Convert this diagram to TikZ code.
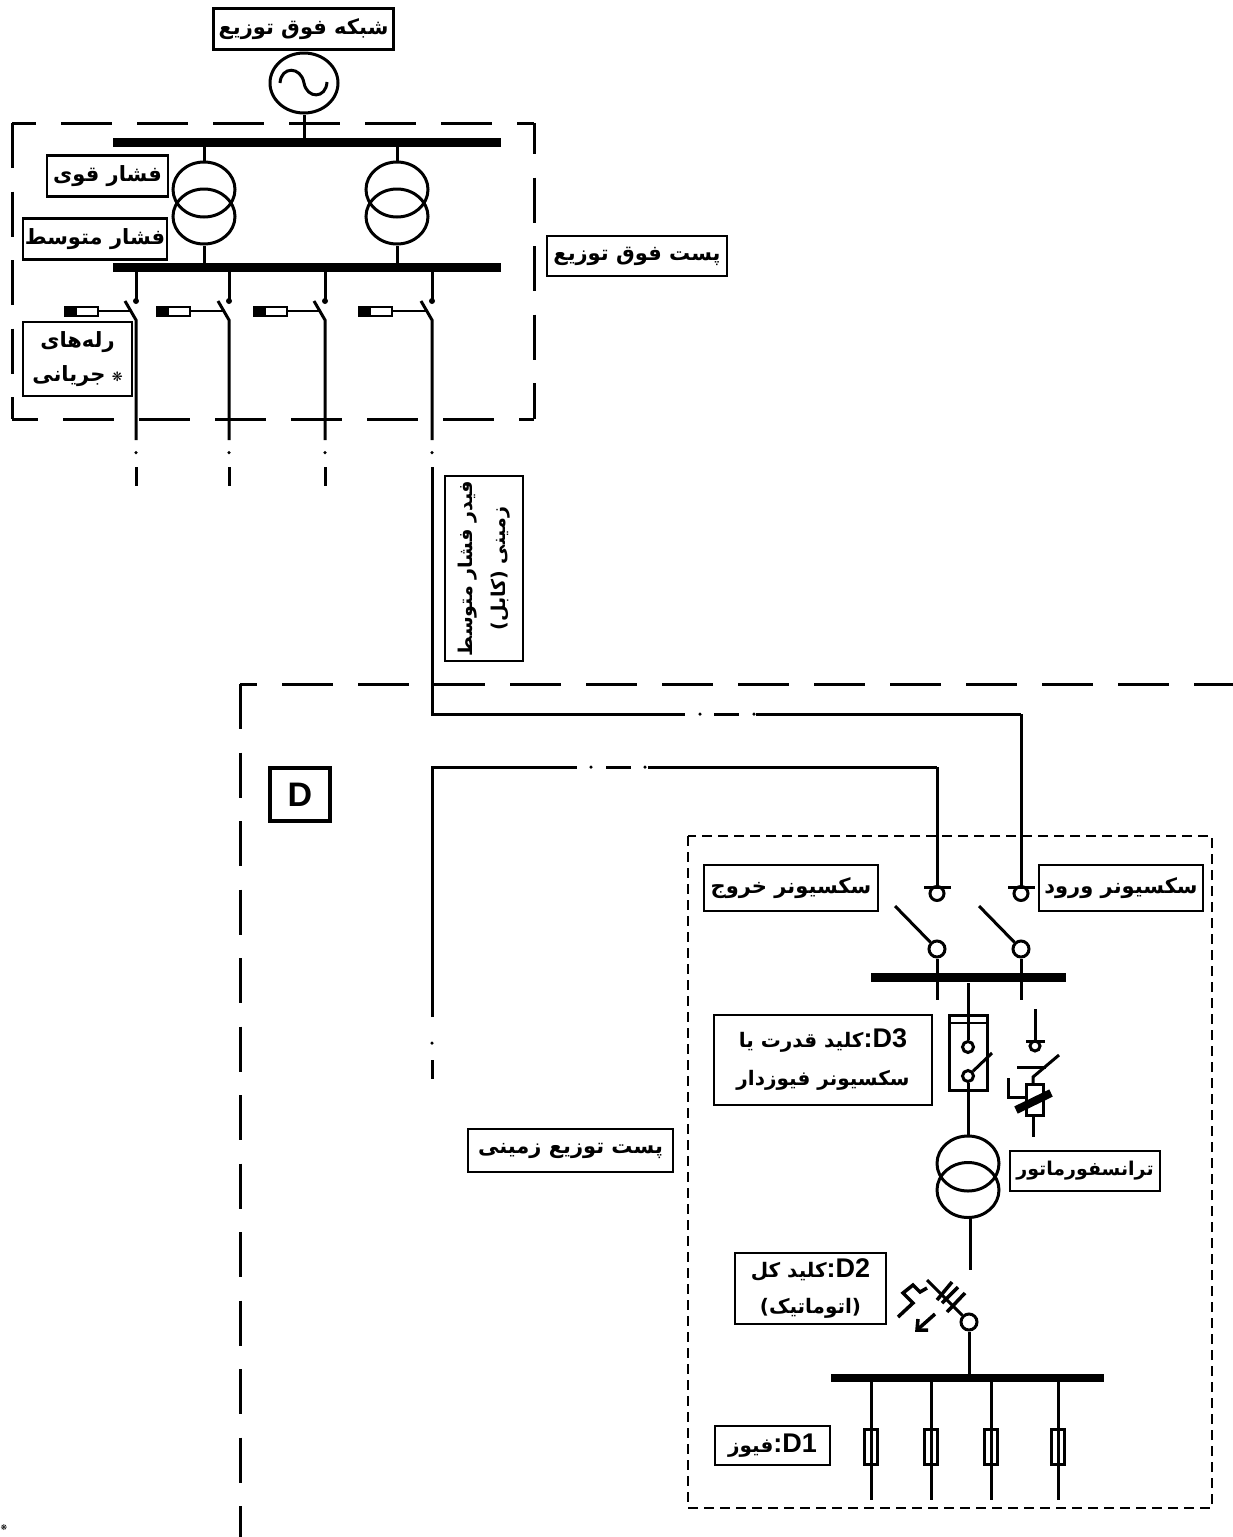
\documentclass[tikz,border=0pt]{standalone}
\usepackage{fontspec}
\usepackage{tikz}
\usetikzlibrary{shapes.geometric}
\TeXXeTstate=1
\newfontfamily\farsifont[Script=Arabic]{DejaVu Sans Bold}
\newfontfamily\latinfont{Liberation Sans Bold}
\newfontfamily\symbfont{DejaVu Sans}
\newcommand{\fa}[1]{{\farsifont\beginR #1\endR}}
\newcommand{\tagD}[1]{\beginL{\latinfont\fontsize{27}{32}\selectfont #1}\endL{\latinfont\fontsize{27}{32}\selectfont :}}
\begin{document}
\begin{tikzpicture}[x=1pt, y=-1pt, line width=3pt,
    lbl/.style={rectangle,draw,fill=white,line width=2.5pt,inner sep=0pt,align=center,font=\fontsize{21}{36}\selectfont},
    bus/.style={rectangle,fill=black,inner sep=0pt,minimum height=9pt},
    winding/.style={ellipse,draw,inner sep=0pt,minimum width=62pt,minimum height=55pt},
    contact/.style={circle,draw,inner sep=0pt,minimum size=13pt},
    relay/.style={rectangle,draw,inner sep=0pt,minimum width=33pt,minimum height=9pt,line width=2pt},
    relaycore/.style={rectangle,fill=black,inner sep=0pt,minimum width=12pt,minimum height=9pt},
    pip/.style={circle,fill=black,inner sep=0pt,minimum size=3.5pt},
    fuse/.style={rectangle,draw,inner sep=0pt,minimum width=13pt,minimum height=35pt},
    longdash/.style={dash pattern=on 51pt off 25pt},
    sidedash/.style={dash pattern=on 45pt off 23.5pt},
    shortdash/.style={line width=2.5pt,dash pattern=on 10pt off 6pt}]
    \useasboundingbox (0,0) rectangle (1233,1537);

    % substation frames
    \coordinate (frametl) at (12,123);
    \coordinate (frametr) at (534,123);
    \coordinate (framebl) at (12,419);
    \coordinate (framebr) at (534,419);
    \draw[longdash,dash phase=25pt] (framebl) -- (framebr);
    \draw[longdash,dash phase=27pt] (frametl) -- (frametr);
    \draw[sidedash] (frametl) -- (framebl);
    \draw[sidedash,dash phase=14pt] (frametr) -- (framebr);
    \coordinate (dcorner) at (240,684);
    \coordinate (dright) at (1233,684);
    \coordinate (dbottom) at (240,1537);
    \draw[longdash,dash phase=34pt] (dcorner) -- (dright);
    \draw[sidedash] (dcorner) -- (dbottom);
    \draw[shortdash] (688,836) rectangle (1212,1508);

    % upstream network
    \node[lbl,minimum width=180pt,minimum height=41pt] (grid) at (303.5,29) {\fa{شبکه فوق توزیع}};
    \node[ellipse,draw,inner sep=0pt,minimum width=68pt,minimum height=60pt] (source) at (304,83) {};
    \draw (280,83) .. controls (281,66) and (301,66) .. (304,83) .. controls (307,99) and (326,99) .. (327,82);
    \node[bus,minimum width=388pt] (hvbus) at (306.5,142) {};
    \node[bus,minimum width=388pt] (mvbus) at (306.5,267) {};
    \draw (source.south) -- (source |- hvbus);

    % power transformers
    \foreach \name/\tx in {left/204,right/397} {
        \node[winding] (\name hv) at (\tx,189.5) {};
        \node[winding] (\name mv) at (\tx,216.5) {};
        \draw (\name hv.north) -- (\name hv |- hvbus);
        \draw (\name mv.south) -- (\name mv |- mvbus);
    }
    \node[lbl,minimum width=121pt,minimum height=41pt] (hvlabel) at (107.5,176) {\fa{فشار قوی}};
    \node[lbl,minimum width=144pt,minimum height=41pt] (mvlabel) at (95,239) {\fa{فشار متوسط}};
    \node[lbl,minimum width=180pt,minimum height=40pt] (hvsub) at (637,256) {\fa{پست فوق توزیع}};

    % outgoing feeders
    \foreach \name/\fx/\rx in {a/136/64,b/229/156,c/325/253,d/432/358} {
        \coordinate (\name top) at (\fx,301);
        \coordinate (\name hinge) at (\fx,320);
        \coordinate (\name tip) at (\fx-11,301);
        \coordinate (\name end) at (\fx,440);
        \node[relay] (\name relay) at (\rx+17,311) {};
        \node[relaycore,anchor=west] (\name core) at (\name relay.west) {};
        \node[pip,minimum size=6pt] (\name star) at (\name top) {};
        \node[pip] (\name pip) at (\fx,452.5) {};
        \draw (\name top |- mvbus) -- (\name top);
        \draw (\name tip) -- (\name hinge) -- (\name end);
        \draw[line width=2pt] (\name relay.east) -- (\fx-6,311);
    }
    \foreach \name/\fx in {a/136,b/229,c/325} {
        \coordinate (\name low) at (\fx,467);
        \coordinate (\name stub) at (\fx,486);
        \draw (\name low) -- (\name stub);
    }
    \node[lbl,minimum width=109pt,minimum height=74pt,font=\fontsize{21}{34}\selectfont] (relays) at (77.5,359) {\fa{رله‌های}\\\fa{جریانی} {\symbfont\fontsize{13}{13}\selectfont ❋}};

    % cable feeder
    \coordinate (cabletop) at (432,467);
    \coordinate (cablecorner) at (432,714);
    \coordinate (cablegap) at (685,714);
    \coordinate (cableseg) at (714,714);
    \coordinate (cablesege) at (739,714);
    \coordinate (cableback) at (756,714);
    \coordinate (incomer) at (1021,714);
    \node[pip] (cablepipa) at (700,714) {};
    \node[pip] (cablepipb) at (754,714) {};
    \draw (cabletop) -- (cablecorner) -- (cablegap);
    \draw (cableseg) -- (cablesege);
    \node[lbl,rotate=90,minimum width=185pt,minimum height=78pt,font=\fontsize{19}{33}\selectfont] (cablelabel) at (484,568.5) {\fa{فیدر فشار متوسط}\\\fa{زمینی (کابل)}};

    \coordinate (retcorner) at (432,767);
    \coordinate (retbottom) at (432,1017);
    \coordinate (retgap) at (577,767);
    \coordinate (retseg) at (606,767);
    \coordinate (retsege) at (631,767);
    \coordinate (retback) at (648,767);
    \coordinate (outgoer) at (937,767);
    \coordinate (retlow) at (432,1060);
    \coordinate (retstub) at (432,1079);
    \node[pip] (retpipa) at (591,767) {};
    \node[pip] (retpipb) at (645,767) {};
    \node[pip] (retpipc) at (432,1043) {};
    \draw (retbottom) -- (retcorner) -- (retgap);
    \draw (retseg) -- (retsege);
    \draw (retlow) -- (retstub);

    % distribution substation labels
    \node[lbl,line width=4pt,minimum width=60pt,minimum height=53pt,font=\latinfont\fontsize{34}{40}\selectfont] (dtag) at (300,794.5) {D};
    \node[lbl,minimum width=205pt,minimum height=43pt] (dsub) at (570.5,1150.5) {\fa{پست  توزیع زمینی}};
    \node[lbl,minimum width=174pt,minimum height=46pt] (outlabel) at (791,888) {\fa{سکسیونر خروج}};
    \node[lbl,minimum width=164pt,minimum height=46pt] (inlabel) at (1121,888) {\fa{سکسیونر ورود}};
    \node[lbl,minimum width=218pt,minimum height=90pt,font=\fontsize{20}{38}\selectfont] (dthree) at (823,1060) {{\farsifont\beginR\tagD{D3}کلید قدرت یا\endR}\\\fa{سکسیونر فیوزدار}};
    \node[lbl,minimum width=150pt,minimum height=40pt,font=\fontsize{19}{30}\selectfont] (trlabel) at (1085,1171) {\fa{ترانسفورماتور}};
    \node[lbl,minimum width=151pt,minimum height=71pt,font=\fontsize{20}{36}\selectfont] (dtwo) at (810.5,1288.5) {{\farsifont\beginR\tagD{D2}کلید کل\endR}\\\fa{(اتوماتیک)}};
    \node[lbl,minimum width=115pt,minimum height=39pt,font=\fontsize{20}{30}\selectfont] (done) at (772.5,1445.5) {{\farsifont\beginR\tagD{D1}فیوز\endR}};

    % load break switches
    \foreach \name/\sx in {out/937,in/1021} {
        \node[contact,minimum size=14pt] (\name fix) at (\sx,893.5) {};
        \node[contact,minimum size=16pt] (\name pivot) at (\sx,949) {};
        \coordinate (\name bar) at (\sx,887);
        \coordinate (\name barl) at (\sx-13,887);
        \coordinate (\name barr) at (\sx+14,887);
        \coordinate (\name blade) at (\sx-42,906);
        \coordinate (\name foot) at (\sx,1000);
        \draw (\name barl) -- (\name barr);
        \draw (\name blade) -- (\name pivot);
        \draw (\name pivot.south) -- (\name foot);
    }
    \draw (outgoer) -- (outbar);
    \draw (incomer) -- (inbar);
    \draw (retback) -- (outgoer);
    \draw (cableback) -- (incomer);
    \node[bus,minimum width=195pt] (ringbus) at (968,977) {};

    % fused switch
    \node[rectangle,draw,inner sep=0pt,minimum width=38pt,minimum height=75pt] (fusebox) at (968,1052.5) {};
    \draw[line width=2.5pt] (949,1023) -- (987,1023);
    \node[contact,minimum size=11pt] (swtop) at (968,1047) {};
    \node[contact,minimum size=11pt] (swlow) at (968,1076) {};
    \coordinate (swtip) at (992,1053);
    \draw (ringbus) -- (swtop);
    \draw (swlow) -- (swtip);

    % surge arrester
    \coordinate (gndtop) at (1035,1009);
    \coordinate (gndbar) at (1035,1041);
    \coordinate (gndl) at (1026,1041);
    \coordinate (gndr) at (1045,1041);
    \node[contact,minimum size=10pt] (gndring) at (1035,1046) {};
    \node[rectangle,draw,inner sep=0pt,minimum width=17pt,minimum height=31pt] (arrester) at (1034.5,1099.5) {};
    \coordinate (arrtop) at (1033,1084);
    \coordinate (arrknee) at (1033,1077);
    \coordinate (arrtip) at (1059,1055);
    \coordinate (arrl) at (1017,1067);
    \coordinate (arrr) at (1046,1067);
    \coordinate (arrbot) at (1033,1137);
    \coordinate (brka) at (1008,1078);
    \coordinate (brkb) at (1008,1097);
    \coordinate (brkc) at (1027,1097);
    \coordinate (slasha) at (1016,1110);
    \coordinate (slashb) at (1051,1093);
    \draw (gndtop) -- (gndbar);
    \draw (gndl) -- (gndr);
    \draw (arrtop) -- (arrknee) -- (arrtip);
    \draw (arrl) -- (arrr);
    \draw (arrbot |- arrester.south) -- (arrbot);
    \draw (brka) -- (brkb) -- (brkc);
    \draw[line width=8pt] (slasha) -- (slashb);

    % distribution transformer
    \node[winding] (dtrhv) at (968,1163.5) {};
    \node[winding] (dtrlv) at (968,1190) {};
    \coordinate (dtrfoot) at (970,1270);
    \draw (swlow) -- (dtrhv.north);
    \draw (dtrlv.south -| dtrfoot) -- (dtrfoot);

    % main breaker
    \node[contact,minimum size=16pt] (brk) at (969,1322) {};
    \coordinate (brkend) at (927,1280);
    \draw (brk) -- (brkend);
    \coordinate (tickaa) at (937,1300);
    \coordinate (tickab) at (952,1282);
    \coordinate (tickba) at (942,1303);
    \coordinate (tickbb) at (958,1287);
    \coordinate (tickca) at (947,1312);
    \coordinate (tickcb) at (965,1293);
    \draw[line width=3.5pt] (tickaa) -- (tickab);
    \draw[line width=3.5pt] (tickba) -- (tickbb);
    \draw[line width=3.5pt] (tickca) -- (tickcb);
    \coordinate (zaga) at (927,1288);
    \coordinate (zagb) at (920,1292);
    \coordinate (zagc) at (913,1285);
    \coordinate (zagd) at (903,1293);
    \coordinate (zage) at (913,1303);
    \coordinate (zagf) at (898,1317);
    \draw[line width=3.5pt] (zaga) -- (zagb) -- (zagc) -- (zagd) -- (zage) -- (zagf);
    \coordinate (tripa) at (935,1314);
    \coordinate (tripb) at (917,1330);
    \coordinate (tripc) at (918,1319);
    \coordinate (tripd) at (928,1330);
    \draw[line width=3.5pt] (tripa) -- (tripb);
    \draw[line width=3.5pt] (tripc) -- (tripb) -- (tripd);
    \node[bus,minimum width=273pt,minimum height=8pt] (lvbus) at (967.5,1378) {};
    \draw (brk) -- (brk |- lvbus);

    % low voltage outputs
    \foreach \name/\lx in {p/871,q/931,r/991,s/1058} {
        \node[fuse] (\name fuse) at (\lx,1446.5) {};
        \coordinate (\name out) at (\lx,1500);
        \draw (\name fuse |- lvbus) -- (\name out);
    }

    \node[inner sep=0pt,font=\symbfont\fontsize{8}{8}\selectfont] (stray) at (4,1528) {❋};
\end{tikzpicture}
\end{document}
